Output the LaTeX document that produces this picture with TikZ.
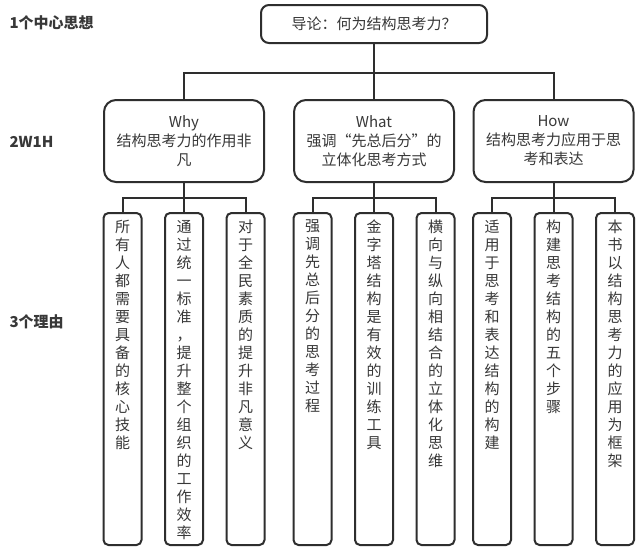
\documentclass[tikz,border=0pt]{standalone}
\usepackage{fontspec}
\setmainfont{Noto Sans CJK SC}
\usepackage{tikz}
\usepackage{xcolor}
\definecolor{inkgray}{HTML}{383838}
\definecolor{linegray}{HTML}{2E2E2E}

\newcommand{\vcol}[1]{\parbox[t][318pt][t]{15pt}{\centering #1}}

\begin{document}
\begin{tikzpicture}[x=1pt,y=-1pt,
  box/.style={draw=linegray,line width=2pt,fill=white,text=inkgray,
    font=\fontsize{15pt}{19pt}\selectfont},
  topbox/.style={box,align=center,minimum width=226pt,minimum height=38pt,rounded corners=8pt},
  head/.style={box,align=center,minimum width=160pt,minimum height=82pt,rounded corners=12pt},
  leaf/.style={box,anchor=north,minimum width=38pt,inner xsep=0pt,inner ysep=7pt,
    rounded corners=5pt,font=\fontsize{15pt}{18pt}\selectfont},
  level/.style={anchor=west,text=inkgray,font=\fontsize{15pt}{18pt}\selectfont\bfseries},
  link/.style={draw=linegray,line width=2pt}]
\useasboundingbox[fill=white] (0,0) rectangle (640,549);

\node[level] (l1) at (6,23) {1个中心思想};
\node[level] (l2) at (6,142) {2W1H};
\node[level] (l3) at (6,322) {3个理由};

\node[topbox] (top) at (374,24) {导论：何为结构思考力？};

\node[head] (why) at (184,141) {Why\\结构思考力的作用非\\凡};
\node[head] (what) at (374,141) {What\\强调“先总后分”的\\立体化思考方式};
\node[head] (how) at (553.5,141) {How\\结构思考力应用于思\\考和表达};

\node[leaf] (why1) at (122.5,212) {\vcol{所\\有\\人\\都\\需\\要\\具\\备\\的\\核\\心\\技\\能}};
\node[leaf] (why2) at (184,212) {\vcol{通\\过\\统\\一\\标\\准\\，\\提\\升\\整\\个\\组\\织\\的\\工\\作\\效\\率}};
\node[leaf] (why3) at (245.5,212) {\vcol{对\\于\\全\\民\\素\\质\\的\\提\\升\\非\\凡\\意\\义}};
\node[leaf] (what1) at (312.5,212) {\vcol{强\\调\\先\\总\\后\\分\\的\\思\\考\\过\\程}};
\node[leaf] (what2) at (374,212) {\vcol{金\\字\\塔\\结\\构\\是\\有\\效\\的\\训\\练\\工\\具}};
\node[leaf] (what3) at (435.5,212) {\vcol{横\\向\\与\\纵\\向\\相\\结\\合\\的\\立\\体\\化\\思\\维}};
\node[leaf] (how1) at (492,212) {\vcol{适\\用\\于\\思\\考\\和\\表\\达\\结\\构\\的\\构\\建}};
\node[leaf] (how2) at (553.5,212) {\vcol{构\\建\\思\\考\\结\\构\\的\\五\\个\\步\\骤}};
\node[leaf] (how3) at (615,212) {\vcol{本\\书\\以\\结\\构\\思\\考\\力\\的\\应\\用\\为\\框\\架}};

\draw[link] (top.south) -- ++(0,29) -| (why.north);
\draw[link] (top.south) -- ++(0,29) -| (how.north);
\draw[link] (top.south) -- (what.north);
\foreach \p in {why,what,how}{
  \draw[link] (\p.south) -- ++(0,15) -| (\p1.north);
  \draw[link] (\p.south) -- ++(0,15) -| (\p3.north);
  \draw[link] (\p.south) -- (\p2.north);
}
\end{tikzpicture}
\end{document}
